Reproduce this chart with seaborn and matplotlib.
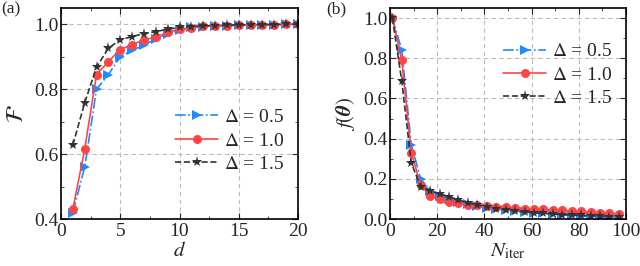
import matplotlib

matplotlib.use("Agg")

import numpy as np
import pandas as pd
import seaborn as sns
from matplotlib import pyplot as plt
from matplotlib.ticker import MultipleLocator

# panel (a): fidelity vs depth d
depth = list(range(1, 21))
fid_05 = [0.42, 0.56, 0.80, 0.845, 0.90, 0.92, 0.935, 0.955, 0.97, 0.982,
          0.99, 0.993, 0.995, 0.996, 0.997, 0.998, 0.999, 0.999, 1.0, 1.0]
fid_10 = [0.43, 0.615, 0.845, 0.885, 0.922, 0.937, 0.952, 0.96, 0.975, 0.985,
          0.988, 0.994, 0.995, 0.996, 0.997, 0.998, 0.999, 0.999, 1.0, 1.0]
fid_15 = [0.628, 0.758, 0.868, 0.926, 0.952, 0.962, 0.971, 0.977, 0.985, 0.99,
          0.993, 0.995, 0.996, 0.997, 0.998, 0.998, 0.999, 0.999, 1.0, 1.0]

# panel (b): cost vs iterations
n_iter = list(range(1, 101, 4))
cost_05 = [1.0, 0.84, 0.37, 0.20, 0.14, 0.115, 0.10, 0.085, 0.075, 0.065,
           0.055, 0.05, 0.045, 0.04, 0.035, 0.03, 0.028, 0.025, 0.02, 0.018,
           0.015, 0.013, 0.011, 0.009, 0.007]
cost_10 = [1.0, 0.79, 0.33, 0.17, 0.115, 0.098, 0.086, 0.078, 0.072, 0.068,
           0.065, 0.062, 0.058, 0.055, 0.052, 0.05, 0.048, 0.045, 0.043, 0.04,
           0.038, 0.035, 0.032, 0.03, 0.026]
cost_15 = [1.0, 0.685, 0.28, 0.16, 0.14, 0.125, 0.11, 0.095, 0.08, 0.07,
           0.06, 0.052, 0.046, 0.04, 0.035, 0.031, 0.028, 0.025, 0.022, 0.02,
           0.018, 0.016, 0.014, 0.012, 0.01]

labels = [r"$\Delta$ = 0.5", r"$\Delta$ = 1.0", r"$\Delta$ = 1.5"]
colors = ["#1E8CFF", "#FF4545", "#333333"]
styles = ["-.", "-", "--"]
markers = [">", "o", "*"]
msizes = [7, 6.5, 8]

sns.set_style("ticks")
plt.rcParams["font.family"] = ["Liberation Serif", "DejaVu Serif"]
plt.rcParams["mathtext.fontset"] = "stix"
plt.rcParams["xtick.direction"] = "in"
plt.rcParams["ytick.direction"] = "in"

fig = plt.figure(figsize=(6.4, 2.66), dpi=100)
ax_a = fig.add_axes([61 / 640, 1 - 219 / 266, 237 / 640, 211 / 266])
ax_b = fig.add_axes([390 / 640, 1 - 219 / 266, 236 / 640, 211 / 266])


def draw(ax, x, series):
    for ys, lab, c, ls, mk, ms in zip(series, labels, colors, styles, markers, msizes):
        sns.lineplot(x=x, y=ys, ax=ax, color=c, linestyle=ls, marker=mk,
                     markersize=ms, markeredgewidth=0, linewidth=1.2, label=lab)


def style(ax):
    ax.grid(True, which="major", linestyle=(0, (4, 3)), color="#bbbbbb", linewidth=0.8)
    ax.tick_params(which="both", top=True, right=True, labelsize=14)
    ax.tick_params(axis="x", pad=3)
    ax.tick_params(axis="y", pad=2)
    ax.tick_params(which="major", length=4)
    ax.tick_params(which="minor", length=2)
    for sp in ax.spines.values():
        sp.set_linewidth(1.2)
        sp.set_color("black")


legend_kw = dict(frameon=False, fontsize=14, handlelength=2.2, handletextpad=0.3,
                 labelspacing=0.3, borderpad=0.2)

draw(ax_a, depth, [fid_05, fid_10, fid_15])
ax_a.set_xlim(0, 20)
ax_a.set_ylim(0.4, 1.05)
ax_a.xaxis.set_major_locator(MultipleLocator(5))
ax_a.xaxis.set_minor_locator(MultipleLocator(2.5))
ax_a.yaxis.set_major_locator(MultipleLocator(0.2))
ax_a.yaxis.set_minor_locator(MultipleLocator(0.1))
ax_a.set_xlabel(r"$d$", fontsize=15, labelpad=1)
ax_a.set_ylabel(r"$\mathcal{F}$", fontsize=17, labelpad=4)
style(ax_a)
ax_a.legend(loc="center right", bbox_to_anchor=(1.0, 0.37), **legend_kw)

draw(ax_b, n_iter, [cost_05, cost_10, cost_15])
ax_b.set_xlim(0, 100)
ax_b.set_ylim(0, 1.05)
ax_b.xaxis.set_major_locator(MultipleLocator(20))
ax_b.xaxis.set_minor_locator(MultipleLocator(10))
ax_b.yaxis.set_major_locator(MultipleLocator(0.2))
ax_b.yaxis.set_minor_locator(MultipleLocator(0.1))
ax_b.set_xlabel(r"$N_{\rm iter}$", fontsize=15, labelpad=1)
ax_b.set_ylabel(r"$f(\boldsymbol{\theta})$", fontsize=15, labelpad=4)
style(ax_b)
ax_b.legend(loc="upper right", bbox_to_anchor=(1.0, 0.9), **legend_kw)

fig.text(1 / 640, 1 - 1 / 266, "(a)", fontsize=12.5, va="top", ha="left")
fig.text(326 / 640, 1 - 1 / 266, "(b)", fontsize=12.5, va="top", ha="left")

fig.savefig("out.png", dpi=100)
